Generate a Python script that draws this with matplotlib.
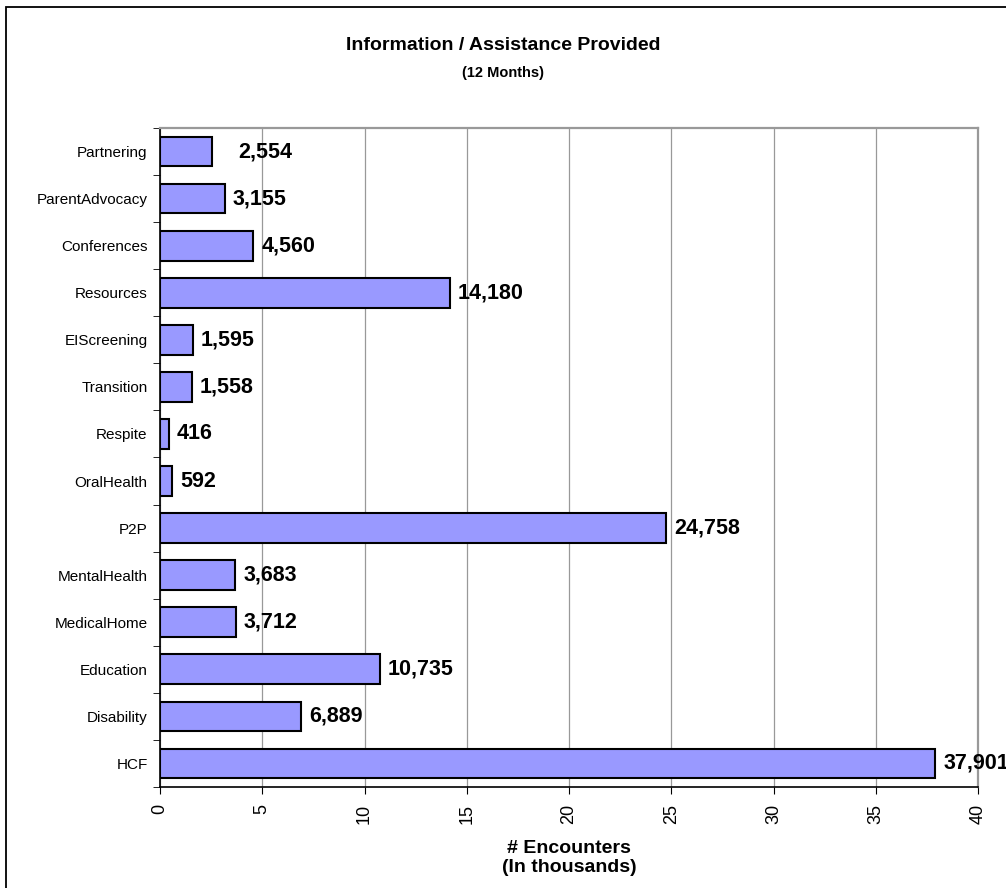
import matplotlib
matplotlib.use("Agg")
import matplotlib.pyplot as plt
from matplotlib.patches import Rectangle

plt.rcParams['font.family'] = ['Liberation Sans', 'DejaVu Sans']

categories = ["Partnering", "ParentAdvocacy", "Conferences", "Resources", "EIScreening",
              "Transition", "Respite", "OralHealth", "P2P", "MentalHealth",
              "MedicalHome", "Education", "Disability", "HCF"]
values = [2554, 3155, 4560, 14180, 1595, 1558, 416, 592, 24758, 3683, 3712, 10735, 6889, 37901]
xticks = [0, 5, 10, 15, 20, 25, 30, 35, 40]

W, H = 1006, 888
fig = plt.figure(figsize=(W / 100, H / 100), dpi=100)
fig.patches.append(Rectangle((6 / W, -0.01), 1.02, 1 - 7 / H + 0.01,
                             transform=fig.transFigure, fill=False, edgecolor='black', lw=1.3))

left, right, top, bottom = 160, 978, 128, 787
ax = fig.add_axes([left / W, 1 - bottom / H, (right - left) / W, (bottom - top) / H])

ypos = list(range(len(categories)))
vals_k = [v / 1000 for v in values]
ax.barh(ypos, vals_k, height=0.63, color='#9999FF', edgecolor='black', linewidth=1.5, zorder=3)
ax.set_ylim(len(categories) - 0.5, -0.5)
ax.set_xlim(0, 40)
ax.set_yticks(ypos)
ax.set_yticklabels(categories, fontsize=11)
ax.set_xticks(xticks)
ax.set_xticklabels([str(t) for t in xticks], rotation=90, fontsize=13)
ax.xaxis.grid(True, color='#999999', linewidth=0.9, zorder=0)
ax.set_axisbelow(True)
for s in ['top', 'right']:
    ax.spines[s].set_color('#999999')
    ax.spines[s].set_linewidth(1.6)
ax.spines['left'].set_color('black')
ax.spines['bottom'].set_color('black')
ax.spines['left'].set_linewidth(1.2)
ax.spines['bottom'].set_linewidth(1.2)
ax.tick_params(axis='x', length=5, direction='out', pad=7)
ax.set_yticks([i + 0.5 for i in range(-1, len(categories))], minor=True)
ax.tick_params(axis='y', which='major', length=0, pad=9)
ax.tick_params(axis='y', which='minor', length=5)

extra = {0: 18}
for i, (v, vk) in enumerate(zip(values, vals_k)):
    off = 8 + extra.get(i, 0)
    ax.annotate(f"{v:,}", (vk, i), xytext=(off, 0), textcoords='offset pixels',
                va='center', ha='left', fontsize=15.5, fontweight='bold', annotation_clip=False)

fig.text(0.5, 1 - 46 / H, "Information / Assistance Provided", ha='center', va='center',
         fontsize=14, fontweight='bold')
fig.text(0.5, 1 - 73 / H, "(12 Months)", ha='center', va='center', fontsize=10.5, fontweight='bold')
fig.text((left + right) / 2 / W, 1 - 858 / H, "# Encounters\n(In thousands)", ha='center', va='center',
         fontsize=14, fontweight='bold', linespacing=1.1)

fig.savefig("out.png", dpi=100)
